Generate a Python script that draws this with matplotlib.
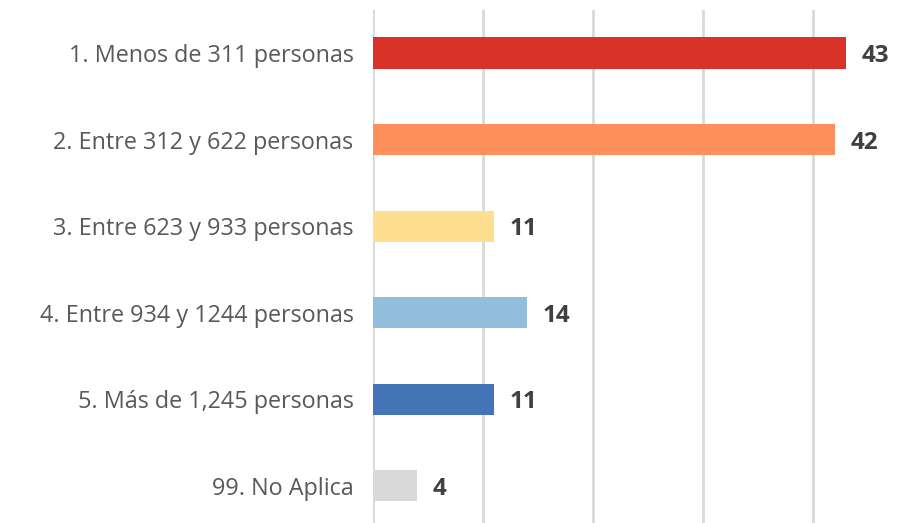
import matplotlib
matplotlib.use("Agg")
import matplotlib.pyplot as plt

categories = ["1. Menos de 311 personas", "2. Entre 312 y 622 personas",
              "3. Entre 623 y 933 personas", "4. Entre 934 y 1244 personas",
              "5. Más de 1,245 personas", "99. No Aplica"]
values = [43, 42, 11, 14, 11, 4]
colors = ["#D93229", "#FD8F5A", "#FEDF90", "#92BEDC", "#4474B6", "#D9D9D9"]

fig = plt.figure(figsize=(9.14, 5.23), dpi=100)
ax = fig.add_axes([373/914, 0, (901-373)/914, 1 - 10/523])
y = list(range(len(categories)))
ax.barh(y, values, height=0.36, color=colors, zorder=3)
ax.set_xlim(0, 48)
ax.set_ylim(5.43, -0.497)
for gx in [0, 10, 20, 30, 40]:
    ax.axvline(gx, color="#D9D9D9", lw=2, zorder=1)
for s in ax.spines.values():
    s.set_visible(False)
ax.set_xticks([])
ax.set_yticks(y)
ax.set_yticklabels(categories, fontsize=16.8, color="#595959", family="Open Sans")
ax.tick_params(axis="y", length=0, pad=14)
for yi, v in zip(y, values):
    ax.text(v + 1.45, yi, str(v), va="center_baseline", ha="left", fontsize=17.5,
            fontweight="bold", color="#404040", family="Open Sans")
fig.savefig("out.png", dpi=100)
